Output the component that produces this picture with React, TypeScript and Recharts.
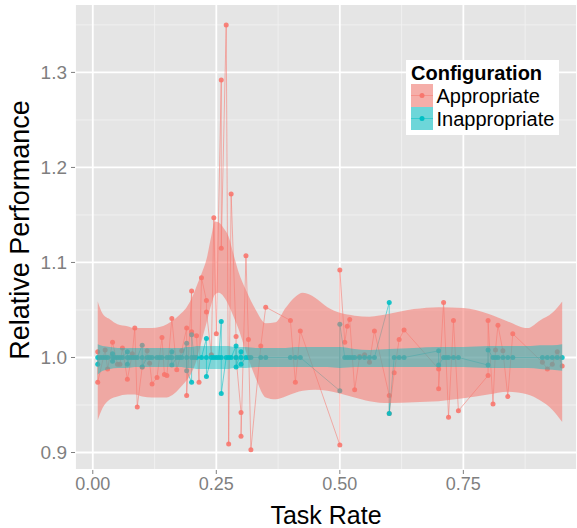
import { ComposedChart, Area, Scatter, XAxis, YAxis, CartesianGrid } from 'recharts';

const RED = '#F8766D';
const TEAL = '#00BFC4';

const xDomain: [number, number] = [-0.036, 0.98];
const yDomain: [number, number] = [0.8816, 1.372];
const xTicks = [0, 0.25, 0.5, 0.75];
const yTicks = [0.9, 1.0, 1.1, 1.2, 1.3];
const xMinor = [0.125, 0.375, 0.625, 0.875];
const yMinor = [0.95, 1.05, 1.15, 1.25, 1.35];
const seriesNames = ['Appropriate', 'Inappropriate'];

// [task rate, relative performance]
const appropriate: [number, number][] = [
  [0.01, 1.006], [0.01, 0.974], [0.025, 1.008], [0.03, 0.988], [0.04, 1.016], [0.05, 0.993],
  [0.055, 0.993], [0.06, 1.01], [0.07, 0.977], [0.08, 1.004], [0.085, 1.031], [0.09, 0.948],
  [0.1, 0.99], [0.11, 1.007], [0.115, 0.994], [0.12, 0.972], [0.13, 0.979], [0.14, 1.021],
  [0.145, 0.982], [0.15, 0.981], [0.16, 1.041], [0.17, 0.987], [0.18, 1.007], [0.19, 1.031],
  [0.19, 0.96], [0.2, 1.07], [0.2, 1.027], [0.21, 1.023], [0.215, 0.974], [0.22, 1.084],
  [0.23, 1.06], [0.23, 1.048], [0.24, 1.003], [0.245, 1.147], [0.25, 1.025], [0.26, 1.292],
  [0.26, 1.115], [0.27, 1.35], [0.275, 0.909], [0.28, 1.172], [0.29, 1.022], [0.29, 1.0],
  [0.3, 0.942], [0.3, 0.917], [0.31, 1.107], [0.315, 1.019], [0.32, 0.903], [0.34, 1.012],
  [0.35, 1.053], [0.4, 1.039], [0.41, 0.974], [0.42, 1.028], [0.5, 0.908], [0.5, 1.092],
  [0.51, 1.016], [0.515, 1.033], [0.52, 1.04], [0.53, 0.966], [0.54, 1.001], [0.55, 1.003],
  [0.56, 0.995], [0.57, 1.028], [0.6, 0.96], [0.6, 0.941], [0.61, 0.984], [0.62, 1.019],
  [0.63, 1.029], [0.7, 0.988], [0.7, 0.967], [0.71, 1.058], [0.72, 0.937], [0.73, 1.039],
  [0.74, 0.944], [0.8, 0.981], [0.8, 1.039], [0.81, 0.951], [0.815, 1.008], [0.82, 1.034],
  [0.83, 1.007], [0.84, 0.959], [0.85, 1.025], [0.91, 0.995], [0.92, 0.988], [0.93, 0.993],
  [0.94, 1.006], [0.95, 0.991],
];

const inappropriate: [number, number][] = [
  [0.01, 1.0], [0.01, 0.993], [0.015, 1.0], [0.02, 1.0], [0.025, 1.0], [0.03, 1.0],
  [0.04, 1.004], [0.04, 1.0], [0.04, 0.996], [0.045, 1.0], [0.05, 1.0], [0.055, 1.0], [0.06, 1.0],
  [0.07, 1.006], [0.07, 1.0], [0.07, 0.993], [0.075, 1.0], [0.08, 1.0], [0.085, 1.0], [0.09, 1.0],
  [0.1, 1.013], [0.1, 1.0], [0.1, 0.99], [0.11, 1.0], [0.115, 1.0], [0.12, 1.0], [0.13, 1.0],
  [0.135, 1.0], [0.14, 1.0], [0.15, 1.0], [0.155, 1.0], [0.16, 1.006], [0.16, 1.0], [0.16, 0.992],
  [0.17, 1.0], [0.175, 1.0], [0.18, 1.0], [0.19, 1.015], [0.19, 1.0], [0.19, 0.986],
  [0.2, 0.974], [0.2, 1.0], [0.2, 1.024], [0.205, 1.0], [0.21, 1.0], [0.22, 1.0],
  [0.23, 1.02], [0.23, 1.0], [0.23, 0.98], [0.24, 1.0], [0.245, 1.0], [0.25, 1.0], [0.255, 1.0],
  [0.26, 1.038], [0.26, 1.0], [0.26, 0.962], [0.27, 1.0], [0.275, 1.0], [0.28, 1.0],
  [0.29, 1.012], [0.29, 1.0], [0.29, 0.99], [0.3, 1.006], [0.3, 1.0], [0.3, 0.993],
  [0.31, 1.0], [0.315, 1.0], [0.32, 1.0], [0.34, 1.0], [0.35, 1.0], [0.4, 1.0], [0.41, 1.0],
  [0.42, 1.0], [0.5, 0.965], [0.5, 1.035], [0.51, 1.0], [0.515, 1.0], [0.52, 1.0], [0.525, 1.0],
  [0.53, 1.0], [0.54, 1.0], [0.55, 1.0], [0.56, 1.0], [0.57, 1.0], [0.6, 1.058], [0.6, 0.941],
  [0.61, 1.0], [0.62, 1.0], [0.63, 1.0], [0.7, 1.007], [0.7, 0.992], [0.71, 1.0], [0.715, 1.0],
  [0.72, 1.0], [0.73, 1.0], [0.74, 1.0], [0.8, 0.992], [0.8, 1.008], [0.81, 1.0], [0.815, 1.0],
  [0.82, 1.0], [0.83, 1.0], [0.84, 1.0], [0.85, 1.0], [0.91, 1.0], [0.92, 1.0], [0.93, 1.0],
  [0.94, 1.0], [0.95, 1.0],
];

// loess confidence bands
const bandX = [0.01, 0.02, 0.035, 0.05, 0.07, 0.085, 0.1, 0.12, 0.135, 0.15, 0.165, 0.18, 0.19, 0.2,
  0.21, 0.22, 0.23, 0.24, 0.247, 0.255, 0.265, 0.275, 0.285, 0.295, 0.31, 0.33, 0.35, 0.37, 0.39,
  0.41, 0.425, 0.45, 0.475, 0.5, 0.53, 0.56, 0.6, 0.65, 0.7, 0.75, 0.8, 0.84, 0.88, 0.905, 0.93, 0.95];
const appropriateLow = [0.934, 0.947, 0.956, 0.959, 0.961, 0.961, 0.959, 0.958, 0.958, 0.958, 0.962,
  0.97, 0.976, 0.984, 0.997, 1.017, 1.036, 1.056, 1.066, 1.068, 1.064, 1.055, 1.043, 1.03, 1.006,
  0.978, 0.958, 0.956, 0.959, 0.963, 0.965, 0.966, 0.965, 0.962, 0.958, 0.954, 0.952, 0.953, 0.954,
  0.957, 0.961, 0.964, 0.961, 0.955, 0.945, 0.932];
const appropriateHigh = [1.059, 1.046, 1.04, 1.035, 1.033, 1.031, 1.031, 1.031, 1.032, 1.035, 1.04,
  1.047, 1.053, 1.062, 1.075, 1.088, 1.103, 1.128, 1.143, 1.142, 1.136, 1.127, 1.108, 1.09, 1.071,
  1.05, 1.036, 1.037, 1.052, 1.064, 1.068, 1.063, 1.053, 1.047, 1.044, 1.043, 1.046, 1.051, 1.053,
  1.052, 1.046, 1.038, 1.031, 1.039, 1.047, 1.059];
const inappropriateLow = [0.982, 0.986, 0.988, 0.989, 0.989, 0.99, 0.99, 0.99, 0.99, 0.99, 0.99,
  0.99, 0.989, 0.989, 0.988, 0.988, 0.988, 0.988, 0.988, 0.988, 0.988, 0.988, 0.989, 0.989, 0.989,
  0.99, 0.99, 0.99, 0.99, 0.99, 0.99, 0.99, 0.99, 0.989, 0.99, 0.99, 0.99, 0.99, 0.99, 0.99, 0.989,
  0.989, 0.989, 0.988, 0.987, 0.986];
const inappropriateHigh = [1.014, 1.012, 1.011, 1.01, 1.01, 1.01, 1.01, 1.01, 1.01, 1.01, 1.01,
  1.01, 1.011, 1.011, 1.012, 1.012, 1.012, 1.012, 1.012, 1.012, 1.012, 1.012, 1.011, 1.011, 1.011,
  1.01, 1.01, 1.01, 1.01, 1.011, 1.011, 1.011, 1.011, 1.011, 1.009, 1.008, 1.009, 1.01, 1.011,
  1.011, 1.012, 1.012, 1.012, 1.013, 1.013, 1.014];

const bands = bandX.map((x, i) => ({
  x,
  red: [appropriateLow[i], appropriateHigh[i]],
  teal: [inappropriateLow[i], inappropriateHigh[i]],
}));
const toPoints = (pts: [number, number][]) => pts.map(([x, y]) => ({ x, y }));

const FONT = '"Liberation Sans", Arial, sans-serif';

const dot = (color: string) => (p: any) => (
  <circle cx={p.cx} cy={p.cy} r={2.5} fill={color} fillOpacity={0.9} />
);

function AxisTitle({ tx, ty, rot, size, text }: { tx: number; ty: number; rot?: number; size: number; text: string }) {
  return (
    <g transform={`rotate(${rot ?? 0} ${tx} ${ty})`}>
      <text x={tx} y={ty} textAnchor="middle" dominantBaseline="central" fontSize={size} fill="#000" fontFamily={FONT}>
        {text}
      </text>
    </g>
  );
}

function LegendBox() {
  const colors = [RED, TEAL];
  return (
    <svg
      width={153}
      height={75}
      style={{ position: 'absolute', left: 406, top: 60, display: 'block', fontFamily: FONT }}
    >
      <rect width={153} height={75} fill="#fff" />
      <text x={5} y={19.5} fontSize={20} fontWeight="bold" fill="#000">Configuration</text>
      {seriesNames.map((name, i) => {
        const y = 24 + i * 23;
        return (
          <g key={name}>
            <rect x={5} y={y} width={22} height={23} fill="#F2F2F2" />
            <rect x={5} y={y} width={22} height={23} fill={colors[i]} fillOpacity={0.55} />
            <line x1={5} x2={27} y1={y + 11.5} y2={y + 11.5} stroke={colors[i]} strokeOpacity={0.5} />
            <circle cx={16} cy={y + 11.5} r={2.5} fill={colors[i]} />
            <text x={30.5} y={y + 18.5} fontSize={20} fill="#000">{name}</text>
          </g>
        );
      })}
    </svg>
  );
}

// minor grid positions from the same linear mapping the axes use
const minorX = ({ offset }: any) =>
  xMinor.map((v) => offset.left + ((v - xDomain[0]) / (xDomain[1] - xDomain[0])) * offset.width);
const minorY = ({ offset }: any) =>
  yMinor.map((v) => offset.top + ((yDomain[1] - v) / (yDomain[1] - yDomain[0])) * offset.height);

export default function App() {
  return (
    <div style={{ position: 'absolute', left: 0, top: 0, width: 577, height: 528, fontFamily: FONT, background: '#fff' }}>
      <ComposedChart width={577} height={528} data={bands} margin={{ top: 4, right: 0, bottom: 0, left: 0 }}>
        <CartesianGrid
          fill="#E5E5E5"
          stroke="#F2F2F2"
          strokeWidth={0.9}
          verticalCoordinatesGenerator={minorX}
          horizontalCoordinatesGenerator={minorY}
        />
        <CartesianGrid stroke="#FFFFFF" strokeWidth={1.8} />
        <XAxis
          dataKey="x"
          type="number"
          domain={xDomain}
          allowDataOverflow
          ticks={xTicks}
          tickFormatter={(v: number) => v.toFixed(2)}
          tick={{ fontSize: 18, fill: '#7F7F7F' }}
          tickLine={{ stroke: '#7F7F7F' }}
          tickSize={4}
          tickMargin={3}
          axisLine={false}
          height={58}
          label={<AxisTitle tx={326} ty={515} size={25} text="Task Rate" />}
        />
        <YAxis
          dataKey="y"
          type="number"
          domain={yDomain}
          allowDataOverflow
          ticks={yTicks}
          tickFormatter={(v: number) => v.toFixed(1)}
          tick={{ fontSize: 19, fill: '#7F7F7F' }}
          tickLine={{ stroke: '#7F7F7F' }}
          tickSize={4}
          tickMargin={4}
          axisLine={false}
          width={75}
          label={<AxisTitle tx={20} ty={230} rot={-90} size={27} text="Relative Performance" />}
        />
        <Scatter
          data={toPoints(appropriate)}
          dataKey="y"
          fill={RED}
          line={{ stroke: RED, strokeOpacity: 0.55, strokeWidth: 1 }}
          lineType="joint"
          shape={dot(RED)}
          isAnimationActive={false}
        />
        <Scatter
          data={toPoints(inappropriate)}
          dataKey="y"
          fill={TEAL}
          line={{ stroke: TEAL, strokeOpacity: 0.55, strokeWidth: 1 }}
          lineType="joint"
          shape={dot(TEAL)}
          isAnimationActive={false}
        />
        <Area
          dataKey="red"
          type="monotone"
          stroke="none"
          fill={RED}
          fillOpacity={0.55}
          zIndex={700}
          isAnimationActive={false}
        />
        <Area
          dataKey="teal"
          type="monotone"
          stroke="none"
          fill={TEAL}
          fillOpacity={0.45}
          zIndex={710}
          isAnimationActive={false}
        />
      </ComposedChart>
      <LegendBox />
    </div>
  );
}
